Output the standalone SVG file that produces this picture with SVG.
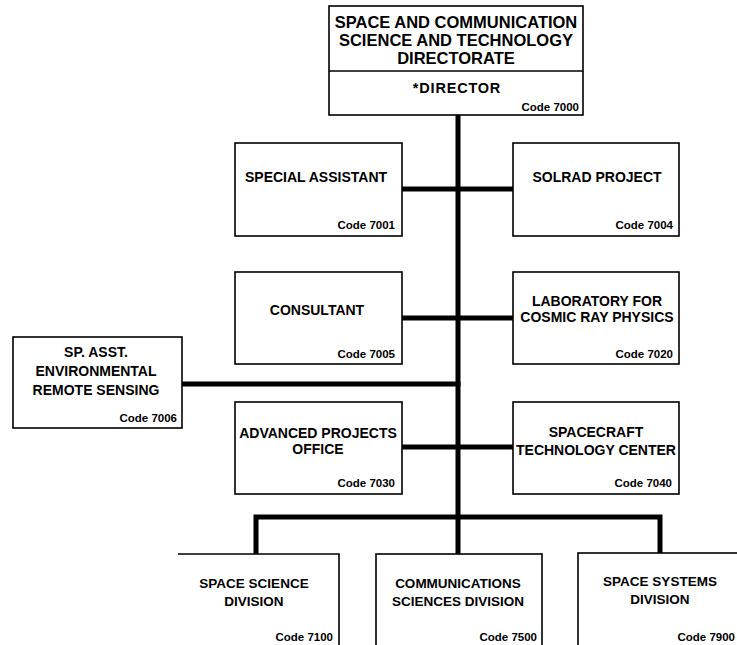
<svg xmlns="http://www.w3.org/2000/svg" width="737" height="645" viewBox="0 0 737 645">
<style>
.box{fill:#fff;stroke:#000;stroke-width:1.6}
.ln{stroke:#000;stroke-width:5;fill:none;stroke-linecap:square}
text{font-family:"Liberation Sans",Arial,Helvetica,sans-serif;font-weight:bold;fill:#000}
.t{font-size:14px;text-anchor:middle}
.d{font-size:13.5px;text-anchor:middle}
.h{font-size:16.5px;text-anchor:middle}
.c{font-size:11.5px;text-anchor:end}
</style>
<rect width="737" height="645" fill="#fff"/>
<g id="connectors">
<line class="ln" x1="458" y1="116" x2="458" y2="553"/>
<line class="ln" x1="403" y1="189" x2="512" y2="189"/>
<line class="ln" x1="403" y1="318" x2="512" y2="318"/>
<line class="ln" x1="183" y1="384" x2="458" y2="384"/>
<line class="ln" x1="403" y1="447" x2="512" y2="447"/>
<path class="ln" d="M256 553 V517 H660 V553"/>
</g>
<g id="n7000">
<rect class="box" x="329" y="6" width="254" height="109"/>
<line x1="329" y1="71" x2="583" y2="71" stroke="#000" stroke-width="1.6"/>
<text class="h" x="456" y="28">SPACE AND COMMUNICATION</text>
<text class="h" x="456" y="46">SCIENCE AND TECHNOLOGY</text>
<text class="h" x="456" y="64">DIRECTORATE</text>
<text class="t" x="457" y="93" style="font-size:14.5px;letter-spacing:0.8px">*DIRECTOR</text>
<text class="c" x="579" y="111">Code 7000</text>
</g>
<g id="n7001">
<rect class="box" x="235" y="143" width="167" height="93"/>
<text class="t" x="316" y="182">SPECIAL ASSISTANT</text>
<text class="c" x="395" y="229">Code 7001</text>
</g>
<g id="n7004">
<rect class="box" x="513" y="143" width="166" height="93"/>
<text class="t" x="597" y="182">SOLRAD PROJECT</text>
<text class="c" x="673" y="229">Code 7004</text>
</g>
<g id="n7005">
<rect class="box" x="235" y="272" width="167" height="92"/>
<text class="t" x="317" y="315">CONSULTANT</text>
<text class="c" x="395" y="358">Code 7005</text>
</g>
<g id="n7020">
<rect class="box" x="513" y="272" width="166" height="92"/>
<text class="t" x="597" y="306">LABORATORY FOR</text>
<text class="t" x="597" y="322">COSMIC RAY PHYSICS</text>
<text class="c" x="673" y="358">Code 7020</text>
</g>
<g id="n7006">
<rect class="box" x="13" y="337" width="169" height="91"/>
<text class="t" x="96" y="357">SP. ASST.</text>
<text class="t" x="96" y="376">ENVIRONMENTAL</text>
<text class="t" x="96" y="395">REMOTE SENSING</text>
<text class="c" x="177" y="422">Code 7006</text>
</g>
<g id="n7030">
<rect class="box" x="235" y="402" width="167" height="92"/>
<text class="t" x="318" y="438">ADVANCED PROJECTS</text>
<text class="t" x="318" y="454">OFFICE</text>
<text class="c" x="395" y="487">Code 7030</text>
</g>
<g id="n7040">
<rect class="box" x="513" y="402" width="166" height="92"/>
<text class="t" x="596" y="437">SPACECRAFT</text>
<text class="t" x="596" y="455">TECHNOLOGY CENTER</text>
<text class="c" x="672" y="487">Code 7040</text>
</g>
<g id="n7100">
<path class="box" d="M178 554 H339 V646" fill="none"/>
<text class="d" x="254" y="588">SPACE SCIENCE</text>
<text class="d" x="254" y="606">DIVISION</text>
<text class="c" x="333" y="641">Code 7100</text>
</g>
<g id="n7500">
<rect class="box" x="376" y="554" width="166" height="100"/>
<text class="d" x="458" y="588">COMMUNICATIONS</text>
<text class="d" x="458" y="606">SCIENCES DIVISION</text>
<text class="c" x="537" y="641">Code 7500</text>
</g>
<g id="n7900">
<rect class="box" x="578" y="553" width="170" height="100"/>
<text class="d" x="660" y="586">SPACE SYSTEMS</text>
<text class="d" x="660" y="604">DIVISION</text>
<text class="c" x="735" y="641">Code 7900</text>
</g>
</svg>
